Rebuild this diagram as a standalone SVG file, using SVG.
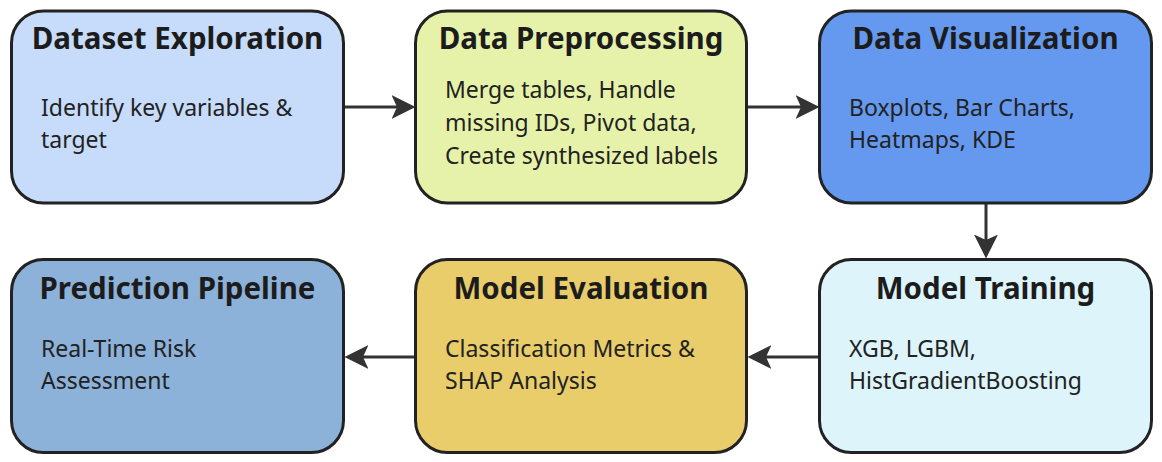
<svg xmlns="http://www.w3.org/2000/svg" width="1162" height="462" viewBox="0 0 1162 462">
<defs>
<style>
.box{stroke:#222222;stroke-width:3}
.title{font-family:"Noto Sans","Open Sans",sans-serif;font-weight:700;font-size:29.5px;fill:#1c1c1c;text-anchor:middle}
.body{font-family:"Noto Sans","Open Sans",sans-serif;font-size:23px;fill:#222222}
.edge{stroke:#333333;stroke-width:3;fill:none}
</style>
<marker id="arr" markerUnits="userSpaceOnUse" markerWidth="24" markerHeight="24" viewBox="0 0 22 22" refX="16" refY="11" orient="auto">
<path d="M0,0 L22,11 L0,22 L5,11 z" fill="#333333"/>
</marker>
</defs>
<rect width="1162" height="462" fill="#ffffff"/>
<g id="connectors">
<path class="edge" d="M345,107 L409,107" marker-end="url(#arr)"/>
<path class="edge" d="M748,107 L813,107" marker-end="url(#arr)"/>
<path class="edge" d="M986,204 L986,252" marker-end="url(#arr)"/>
<path class="edge" d="M818,357 L754,357" marker-end="url(#arr)"/>
<path class="edge" d="M414,357 L351,357" marker-end="url(#arr)"/>
</g>
<g id="dataset-exploration">
<rect class="box" x="11.5" y="11" width="332" height="192" rx="32" fill="#c7dcfb"/>
<text class="title" x="177.5" y="49">Dataset Exploration</text>
<text class="body" x="41" y="116">Identify key variables &amp;</text>
<text class="body" x="41" y="148">target</text>
</g>
<g id="data-preprocessing">
<rect class="box" x="415.5" y="11" width="331" height="192" rx="32" fill="#e6f2a9"/>
<text class="title" x="581" y="49">Data Preprocessing</text>
<text class="body" x="445" y="98">Merge tables, Handle</text>
<text class="body" x="445" y="131">missing IDs, Pivot data,</text>
<text class="body" x="445" y="164">Create synthesized labels</text>
</g>
<g id="data-visualization">
<rect class="box" x="819.5" y="11" width="332" height="192" rx="32" fill="#6499ef"/>
<text class="title" x="985.5" y="49">Data Visualization</text>
<text class="body" x="849" y="116">Boxplots, Bar Charts,</text>
<text class="body" x="849" y="148">Heatmaps, KDE</text>
</g>
<g id="model-training">
<rect class="box" x="819.5" y="259.5" width="332" height="193" rx="32" fill="#dcf4fa"/>
<text class="title" x="985.5" y="299">Model Training</text>
<text class="body" x="849" y="357">XGB, LGBM,</text>
<text class="body" x="849" y="389">HistGradientBoosting</text>
</g>
<g id="model-evaluation">
<rect class="box" x="415.5" y="259.5" width="331" height="193" rx="32" fill="#e8cd6a"/>
<text class="title" x="581" y="299">Model Evaluation</text>
<text class="body" x="445" y="357">Classification Metrics &amp;</text>
<text class="body" x="445" y="389">SHAP Analysis</text>
</g>
<g id="prediction-pipeline">
<rect class="box" x="11.5" y="259.5" width="332" height="193" rx="32" fill="#8cb2d9"/>
<text class="title" x="177.5" y="299">Prediction Pipeline</text>
<text class="body" x="41" y="357">Real-Time Risk</text>
<text class="body" x="41" y="389">Assessment</text>
</g>
</svg>
